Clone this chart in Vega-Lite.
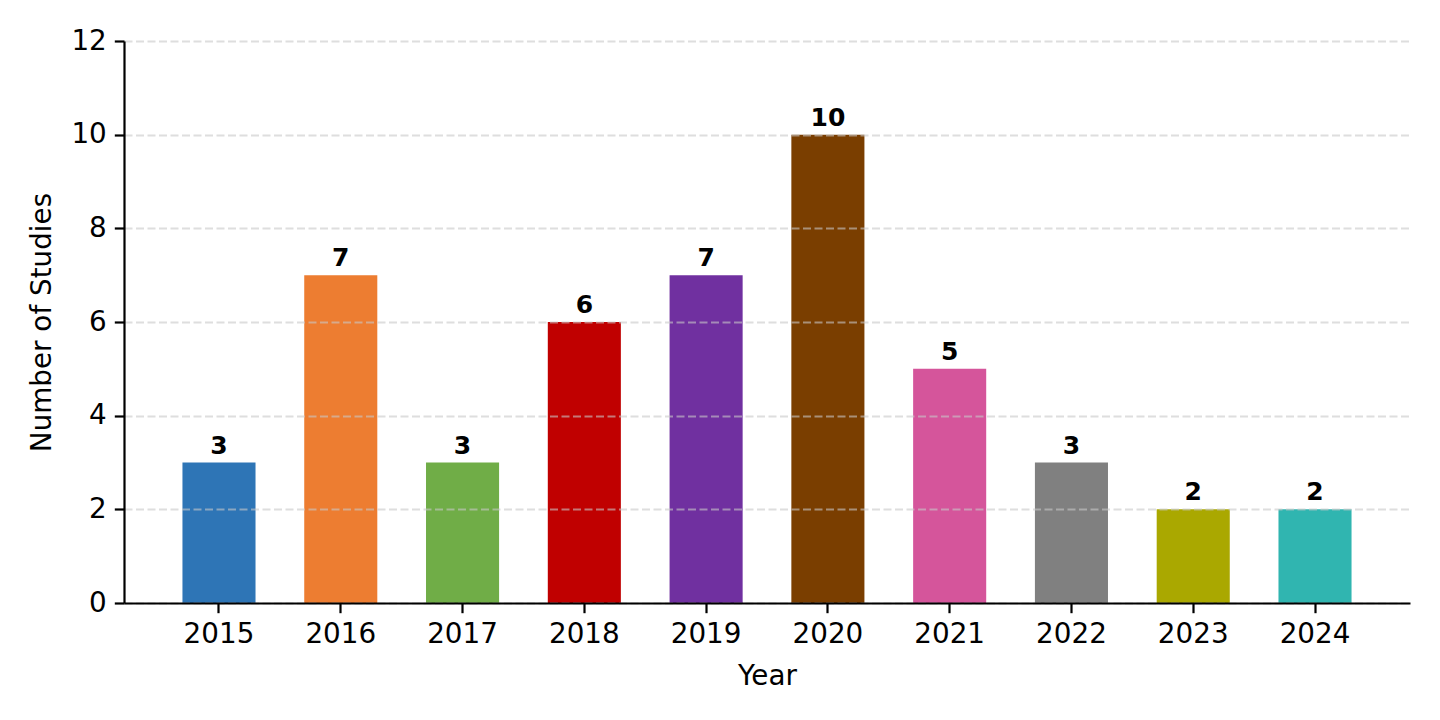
{
  "$schema": "https://vega.github.io/schema/vega-lite/v6.json",
  "width": 1286,
  "height": 562,
  "autosize": {"type": "none"},
  "padding": {"left": 124, "top": 41, "right": 30, "bottom": 117},
  "background": "white",
  "config": {
    "view": {"stroke": null},
    "font": "DejaVu Sans",
    "axis": {
      "labelFont": "DejaVu Sans",
      "titleFont": "DejaVu Sans",
      "labelFontSize": 27.8,
      "titleFontSize": 27.8,
      "labelColor": "black",
      "titleColor": "black",
      "titleFontWeight": "normal",
      "domainColor": "black",
      "domainWidth": 2.2,
      "tickColor": "black",
      "tickWidth": 2.2,
      "tickSize": 9.7,
      "labelPadding": 8
    }
  },
  "data": {
    "values": [
      {"Year": "2015", "Studies": 3},
      {"Year": "2016", "Studies": 7},
      {"Year": "2017", "Studies": 3},
      {"Year": "2018", "Studies": 6},
      {"Year": "2019", "Studies": 7},
      {"Year": "2020", "Studies": 10},
      {"Year": "2021", "Studies": 5},
      {"Year": "2022", "Studies": 3},
      {"Year": "2023", "Studies": 2},
      {"Year": "2024", "Studies": 2}
    ]
  },
  "encoding": {
    "x": {
      "field": "Year",
      "type": "ordinal",
      "title": "Year",
      "scale": {"paddingInner": 0.4, "paddingOuter": 0.48},
      "axis": {"labelAngle": 0, "titlePadding": 14, "zindex": 2}
    },
    "y": {
      "field": "Studies",
      "type": "quantitative",
      "title": "Number of Studies",
      "scale": {"domain": [0, 12], "nice": false},
      "axis": {
        "values": [0, 2, 4, 6, 8, 10, 12],
        "grid": true,
        "gridColor": "#c8c8c8",
        "gridOpacity": 0.6,
        "gridWidth": 2.2,
        "gridDash": [8, 3.5],
        "titlePadding": 14,
        "zindex": 1
      }
    }
  },
  "layer": [
    {
      "mark": {"type": "bar"},
      "encoding": {
        "color": {
          "field": "Year",
          "type": "nominal",
          "legend": null,
          "scale": {
            "domain": ["2015", "2016", "2017", "2018", "2019", "2020", "2021", "2022", "2023", "2024"],
            "range": ["#2e75b6", "#ed7d31", "#70ad47", "#c00000", "#7030a0", "#7a3e00", "#d5559b", "#808080", "#aaa800", "#30b5b0"]
          }
        }
      }
    },
    {
      "mark": {
        "type": "text",
        "baseline": "alphabetic",
        "align": "center",
        "dy": -9,
        "fontSize": 25,
        "fontWeight": "bold",
        "font": "DejaVu Sans",
        "color": "black"
      },
      "encoding": {
        "text": {"field": "Studies", "type": "quantitative"}
      }
    }
  ]
}
